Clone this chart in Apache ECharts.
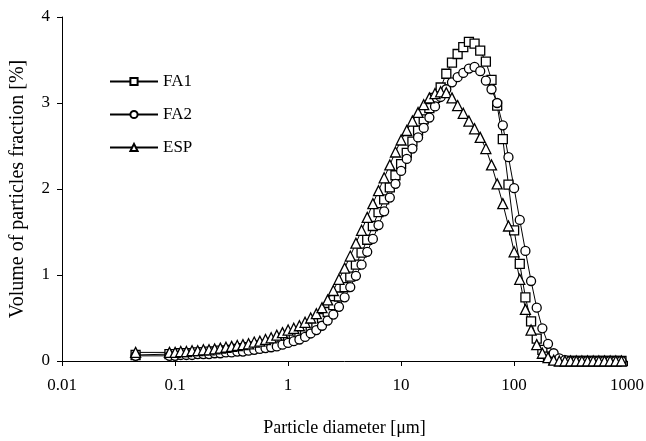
<!DOCTYPE html>
<html>
<head>
<meta charset="utf-8">
<script src="https://cdn.jsdelivr.net/npm/echarts@6/dist/echarts.min.js"></script>
<style>
  html, body { margin: 0; padding: 0; background: #fff; }
  #chart { width: 646px; height: 441px; }
</style>
</head>
<body>
<div id="chart"></div>
<script>
// particle diameter bins [um]
const diameters = [
  0.0448,
  0.0893, 0.1002, 0.1125, 0.1262, 0.1416, 0.1589, 0.1783, 0.2, 0.2244, 0.2518,
  0.2825, 0.317, 0.3557, 0.3991, 0.4477, 0.5024, 0.5637, 0.6325, 0.7096, 0.7962,
  0.8934, 1.0024,
  1.1247, 1.2619, 1.4159, 1.5887, 1.7825, 2.0, 2.244, 2.5179, 2.8251, 3.1698,
  3.5566, 3.9905, 4.4774, 5.0238, 5.6368, 6.3246, 7.0963, 7.9621, 8.9337, 10.024,
  11.247, 12.619, 14.159, 15.887, 17.825, 20.0, 22.44, 25.179, 28.251, 31.698,
  35.566, 39.905, 44.774, 50.238, 56.368, 63.246, 70.963, 79.621, 89.337, 100.24,
  112.47, 126.19, 141.59, 158.87, 178.25, 200, 224.4, 251.79, 282.51, 316.98,
  355.66, 399.05, 447.74, 502.38, 563.68, 632.46, 709.63, 796.21, 893.37, 1002.4
];

const fa1 = [
  0.07,
  0.08, 0.08, 0.09, 0.09, 0.09, 0.10, 0.10, 0.11, 0.11, 0.12,
  0.12, 0.13, 0.14, 0.15, 0.16, 0.17, 0.18, 0.19, 0.21, 0.22,
  0.24, 0.27,
  0.29, 0.32, 0.35, 0.39, 0.44, 0.50, 0.57, 0.65, 0.75, 0.86,
  0.98, 1.12, 1.26, 1.41, 1.57, 1.73, 1.88, 2.02, 2.16, 2.29,
  2.42, 2.55, 2.68, 2.81, 2.94, 3.06, 3.18, 3.34, 3.47, 3.57,
  3.65, 3.71, 3.69, 3.61, 3.48, 3.27, 2.97, 2.58, 2.05, 1.52,
  1.13, 0.74, 0.46, 0.26, 0.13, 0.05, 0.01, 0, 0, 0,
  0, 0, 0, 0, 0, 0, 0, 0, 0, 0
];

const fa2 = [
  0.06,
  0.06, 0.06, 0.07, 0.07, 0.07, 0.08, 0.08, 0.08, 0.09, 0.09,
  0.10, 0.10, 0.11, 0.11, 0.12, 0.13, 0.14, 0.15, 0.16, 0.17,
  0.19, 0.21,
  0.23, 0.25, 0.28, 0.32, 0.36, 0.41, 0.47, 0.54, 0.63, 0.74,
  0.86, 0.99, 1.12, 1.27, 1.42, 1.58, 1.74, 1.90, 2.06, 2.21,
  2.35, 2.47, 2.60, 2.71, 2.83, 2.96, 3.07, 3.16, 3.24, 3.30,
  3.35, 3.40, 3.42, 3.37, 3.26, 3.16, 3.00, 2.74, 2.37, 2.01,
  1.64, 1.28, 0.93, 0.62, 0.38, 0.20, 0.09, 0.03, 0.01, 0,
  0, 0, 0, 0, 0, 0, 0, 0, 0, 0
];

const esp = [
  0.10,
  0.10, 0.10, 0.11, 0.11, 0.12, 0.12, 0.13, 0.13, 0.14, 0.15,
  0.16, 0.17, 0.18, 0.19, 0.20, 0.22, 0.23, 0.25, 0.27, 0.30,
  0.33, 0.36,
  0.38, 0.41, 0.45, 0.50, 0.55, 0.62, 0.71, 0.82, 0.95, 1.08,
  1.22, 1.37, 1.52, 1.67, 1.83, 1.98, 2.13, 2.28, 2.43, 2.57,
  2.68, 2.79, 2.89, 2.98, 3.06, 3.11, 3.13, 3.12, 3.06, 2.97,
  2.88, 2.79, 2.70, 2.60, 2.47, 2.28, 2.06, 1.83, 1.57, 1.27,
  0.95, 0.60, 0.36, 0.19, 0.09, 0.04, 0.01, 0, 0, 0,
  0, 0, 0, 0, 0, 0, 0, 0, 0, 0
];

const seriesNames = ["FA1", "FA2", "ESP"];
const seriesSymbols = ["rect", "circle", "triangle"];
const xTickLabels = ["0.01", "0.1", "1", "10", "100", "1000"];
const yTickLabels = ["0", "1", "2", "3", "4"];

const font = "'Liberation Serif', 'Times New Roman', serif";

const chart = echarts.init(document.getElementById("chart"));

const makeSeries = (name, values, symbol) => ({
  name: name,
  type: "line",
  data: diameters.map((d, i) => [d, values[i]]),
  symbol: symbol,
  symbolSize: symbol === "triangle" ? 10 : 9,
  showAllSymbol: true,
  lineStyle: { color: "#000", width: 1 },
  itemStyle: { color: "#fff", borderColor: "#000", borderWidth: 1.3 },
  emphasis: { disabled: true },
  animation: false,
});

const option = {
  animation: false,
  grid: { left: 62, right: 19, top: 17, bottom: 80, outerBoundsMode: "none" },
  legend: {
    orient: "vertical",
    left: 104,
    top: 68,
    itemWidth: 48,
    itemHeight: 9,
    itemGap: 16,
    data: seriesNames,
    textStyle: { fontFamily: font, fontSize: 17, color: "#000" },
  },
  xAxis: {
    type: "log",
    logBase: 10,
    min: 0.01,
    max: 1000,
    name: "Particle diameter [μm]",
    nameLocation: "middle",
    nameGap: 58,
    nameTextStyle: { fontFamily: font, fontSize: 18, color: "#000" },
    axisLine: { lineStyle: { color: "#000", width: 1 } },
    axisTick: { inside: false, length: 5, lineStyle: { color: "#000" } },
    axisLabel: {
      fontFamily: font,
      fontSize: 17,
      color: "#000",
      margin: 16,
      formatter: (v) => {
        const idx = Math.round(Math.log10(v)) + 2;
        return xTickLabels[idx] ?? "";
      },
    },
    splitLine: { show: false },
    minorTick: { show: false },
  },
  yAxis: {
    type: "value",
    min: 0,
    max: 4,
    interval: 1,
    name: "Volume of particles fraction [%]",
    nameLocation: "middle",
    nameGap: 34,
    nameTextStyle: { fontFamily: font, fontSize: 20, color: "#000" },
    axisLine: { show: true, lineStyle: { color: "#000", width: 1 } },
    axisTick: { show: true, inside: false, length: 5, lineStyle: { color: "#000" } },
    axisLabel: {
      fontFamily: font,
      fontSize: 17,
      color: "#000",
      margin: 12,
      formatter: (v) => yTickLabels[Math.round(v)] ?? "",
    },
    splitLine: { show: false },
  },
  series: seriesNames.map((n, i) =>
    makeSeries(n, [fa1, fa2, esp][i], seriesSymbols[i])
  ),
};

chart.setOption(option);
</script>
</body>
</html>
